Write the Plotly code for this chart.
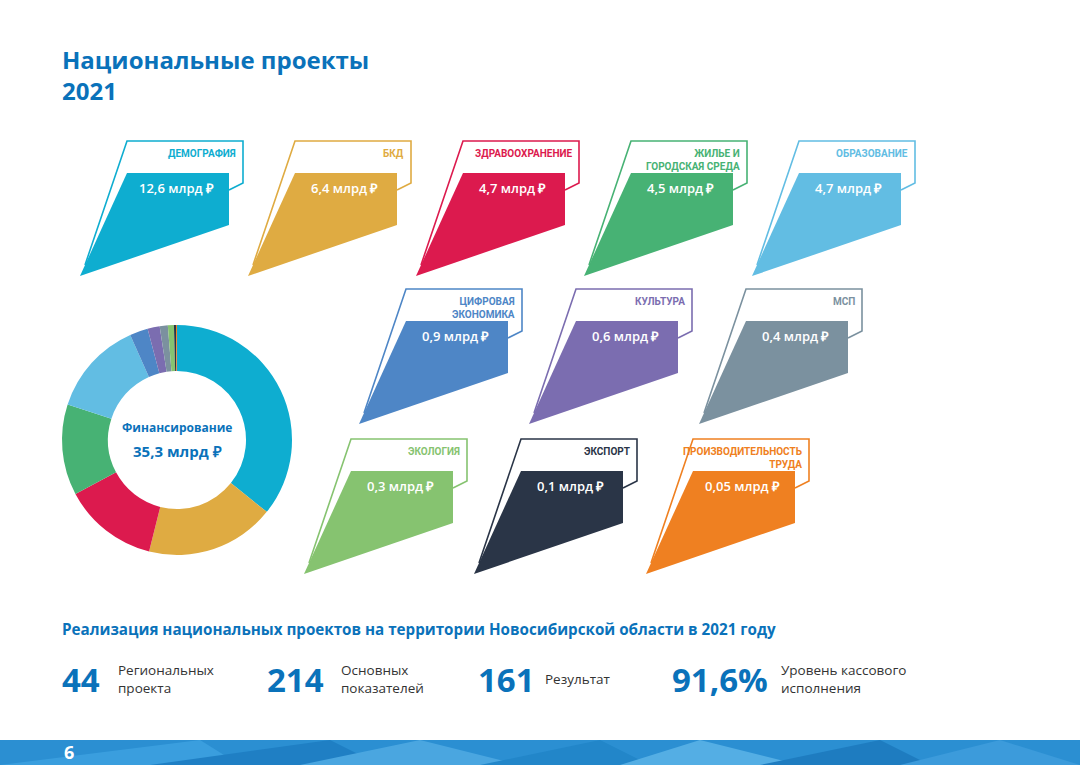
import plotly.graph_objects as go

# ---------------- data ----------------
projects = ["ДЕМОГРАФИЯ", "БКД", "ЗДРАВООХРАНЕНИЕ", "ЖИЛЬЕ И<br>ГОРОДСКАЯ СРЕДА", "ОБРАЗОВАНИЕ",
            "ЦИФРОВАЯ<br>ЭКОНОМИКА", "КУЛЬТУРА", "МСП",
            "ЭКОЛОГИЯ", "ЭКСПОРТ", "ПРОИЗВОДИТЕЛЬНОСТЬ<br>ТРУДА"]
funding = [12.6, 6.4, 4.7, 4.5, 4.7, 0.9, 0.6, 0.4, 0.3, 0.1, 0.05]
funding_labels = ["12,6", "6,4", "4,7", "4,5", "4,7", "0,9", "0,6", "0,4", "0,3", "0,1", "0,05"]
colors = ["#0eadd0", "#dfab42", "#dc1a4e", "#47b274", "#62bde3",
          "#4e86c6", "#7b6db0", "#7b919f", "#86c370", "#2a3547", "#ef8021"]
total_label = "35,3 млрд ₽"

stat_numbers = ["44", "214", "161", "91,6%"]
stat_texts = ["Региональных<br>проекта", "Основных<br>показателей", "Результат", "Уровень кассового<br>исполнения"]

# ---------------- layout helpers ----------------
W, H = 1080, 765
BLUE = "#0a72ba"
row_tops = [141, 289, 439]
row_rights = [[243, 411, 579, 747, 915], [522, 692, 862], [467, 637, 809]]
cards = []
for r, rights in enumerate(row_rights):
    for R in rights:
        cards.append((R, row_tops[r]))

shapes = []
annotations = []

for i, (R, T) in enumerate(cards):
    c = colors[i]
    ft = T + 32  # fill top
    shapes.append(dict(type="path", xref="x", yref="y",
                       path=f"M {R-116},{ft} L {R-14},{ft} L {R-14},{ft+52} L {R-163},{ft+103} Z",
                       fillcolor=c, line=dict(width=0), layer="above"))
    shapes.append(dict(type="path", xref="x", yref="y",
                       path=f"M {R-158},{T+124} L {R-116},{T} L {R},{T} L {R},{T+42} L {R-14},{T+49}",
                       fillcolor="rgba(0,0,0,0)", line=dict(color=c, width=1.6), layer="above"))
    annotations.append(dict(x=R - 5, y=T + 5, xref="x", yref="y", text=f"<b>{projects[i]}</b>",
                            showarrow=False, xanchor="right", yanchor="top", align="right",
                            font=dict(family="Roboto, Liberation Sans", size=10, color=c)))
    annotations.append(dict(x=(R - 116 + R - 14) / 2 - 2, y=ft + 15, xref="x", yref="y",
                            text=f"{funding_labels[i]} млрд ₽", showarrow=False,
                            xanchor="center", yanchor="middle",
                            font=dict(family="Open Sans", size=13, color="white", weight=600)))

# Footer band
shapes.append(dict(type="rect", xref="x", yref="y", x0=0, x1=W, y0=740, y1=H,
                   fillcolor="#2b8fd2", line=dict(width=0), layer="below"))
footer_tris = [
    (0, 200, 240, "#3a9ede"), (150, 330, 380, "#1f7fc4"), (300, 420, 520, "#4aa6e0"),
    (480, 600, 650, "#2286c9"), (620, 700, 800, "#54aee4"), (760, 880, 930, "#1e7cc0"),
    (900, 1000, 1080, "#3c9bdb"),
]
for a, b, cx, col in footer_tris:
    shapes.append(dict(type="path", xref="x", yref="y",
                       path=f"M {a},{H} L {b},740 L {cx},{H} Z",
                       fillcolor=col, line=dict(width=0), layer="below"))
annotations.append(dict(x=62, y=752, xref="x", yref="y", text="<b>6</b>", showarrow=False,
                        xanchor="left", yanchor="middle",
                        font=dict(family="Open Sans", size=18, color="white")))

# Title
annotations.append(dict(x=60, y=75, xref="x", yref="y", text="<b>Национальные проекты<br>2021</b>",
                        showarrow=False, xanchor="left", yanchor="middle", align="left",
                        font=dict(family="Open Sans", size=24, color=BLUE)))

# Donut center text
annotations.append(dict(x=177, y=427, xref="x", yref="y", text="<b>Финансирование</b>", showarrow=False,
                        font=dict(family="Open Sans", size=12, color=BLUE)))
annotations.append(dict(x=177, y=451, xref="x", yref="y", text=f"<b>{total_label}</b>", showarrow=False,
                        font=dict(family="Open Sans", size=15, color=BLUE)))

# Bottom headline
annotations.append(dict(x=60, y=629, xref="x", yref="y",
                        text="<b>Реализация национальных проектов на территории Новосибирской области в 2021 году</b>",
                        showarrow=False, xanchor="left", yanchor="middle",
                        font=dict(family="Open Sans", size=15.2, color=BLUE)))

num_x = [60, 265, 476, 670]
txt_x = [116, 339, 543, 779]
for n, t, nx, tx in zip(stat_numbers, stat_texts, num_x, txt_x):
    annotations.append(dict(x=nx, y=679, xref="x", yref="y", text=f"<b>{n}</b>", showarrow=False,
                            xanchor="left", yanchor="middle",
                            font=dict(family="Open Sans", size=33, color=BLUE, weight=800)))
    annotations.append(dict(x=tx, y=679, xref="x", yref="y", text=t, showarrow=False,
                            xanchor="left", yanchor="middle", align="left",
                            font=dict(family="Open Sans", size=13.5, color="#333333")))

fig = go.Figure()
fig.add_trace(go.Pie(values=funding, labels=[p.replace("<br>", " ") for p in projects],
                     marker=dict(colors=colors, line=dict(width=0)),
                     hole=0.6, sort=False, direction="clockwise", rotation=0,
                     textinfo="none", showlegend=False,
                     domain=dict(x=[62 / W, 292 / W], y=[1 - 555 / H, 1 - 325 / H])))

fig.update_layout(width=W, height=H, margin=dict(l=0, r=0, t=0, b=0),
                  paper_bgcolor="white", plot_bgcolor="white",
                  xaxis=dict(range=[0, W], visible=False, fixedrange=True),
                  yaxis=dict(range=[H, 0], visible=False, fixedrange=True),
                  shapes=shapes, annotations=annotations, showlegend=False)

fig.write_html("out.html", config={"displayModeBar": False},
               post_script="document.body.style.margin='0';document.body.style.overflow='hidden';")
